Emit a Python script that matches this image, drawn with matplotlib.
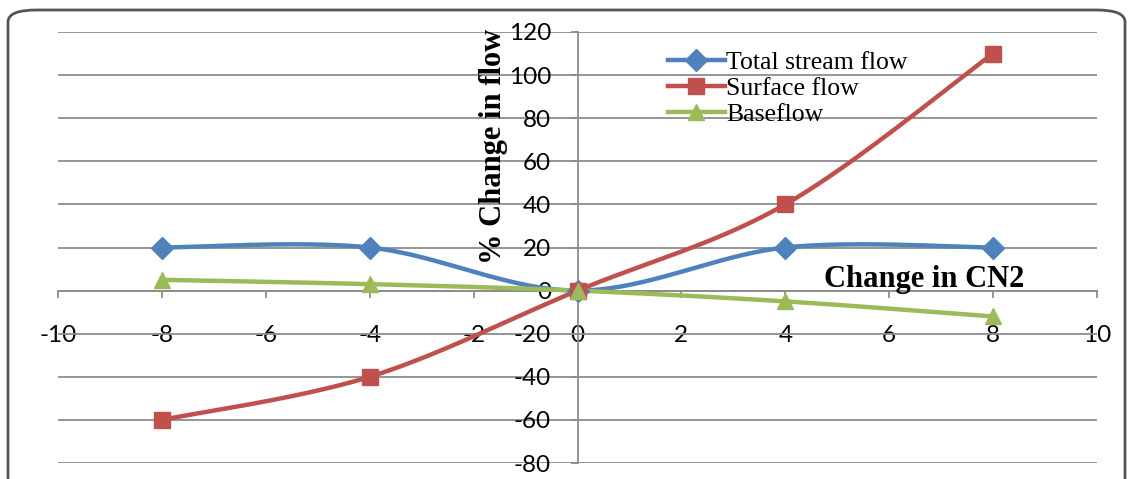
import numpy as np
import matplotlib
matplotlib.use("Agg")
import matplotlib.pyplot as plt
from matplotlib.lines import Line2D
from matplotlib.patches import FancyBboxPatch

plt.rcParams["axes.unicode_minus"] = False

cn2_change = [-8, -4, 0, 4, 8]
total_flow = [20, 20, 0, 20, 20]
surface_flow = [-60, -40, 0, 40, 110]
base_flow = [5, 3, 0, -5, -12]

series_names = ["Total stream flow", "Surface flow", "Baseflow"]
colors = ["#4F81BD", "#C0504D", "#9BBB59"]
markers = ["D", "s", "^"]
msizes = [11, 11, 12]

GRID = "#8c8c8c"


def smooth(xs, ys, n=40):
    # excel-like smoothed line: cubic bezier with catmull-rom control points
    p = np.column_stack([xs, ys]).astype(float)
    out = []
    for i in range(len(p) - 1):
        p0 = p[i - 1] if i > 0 else p[i]
        p3 = p[i + 2] if i + 2 < len(p) else p[i + 1]
        c1 = p[i] + (p[i + 1] - p0) / 6
        c2 = p[i + 1] - (p3 - p[i]) / 6
        t = np.linspace(0, 1, n)[:, None]
        seg = ((1 - t) ** 3 * p[i] + 3 * (1 - t) ** 2 * t * c1
               + 3 * (1 - t) * t ** 2 * c2 + t ** 3 * p[i + 1])
        out.append(seg if i == 0 else seg[1:])
    out = np.vstack(out)
    return out[:, 0], out[:, 1]


fig = plt.figure(figsize=(11.31, 4.79), dpi=100)
ax = fig.add_axes([58 / 1131, 1 - 463 / 479, (1097 - 58) / 1131, (463 - 32) / 479])

handles = []
for ys, c, m, ms, name in zip([total_flow, surface_flow, base_flow], colors, markers, msizes, series_names):
    sx, sy = smooth(cn2_change, ys)
    ax.plot(sx, sy, color=c, lw=3.2, solid_capstyle="round", zorder=3)
    ax.plot(cn2_change, ys, ls="none", marker=m, ms=ms, color=c, mec=c, zorder=4)
    handles.append(Line2D([], [], color=c, lw=3.2, marker=m, ms=ms, mec=c))

ax.set_xlim(-10, 10)
ax.set_ylim(-80, 120)
ax.set_xticks(np.arange(-10, 11, 2))
ax.set_yticks(np.arange(-80, 121, 20))
ax.yaxis.grid(True, color=GRID, lw=1.3)
ax.set_axisbelow(True)

for s in ["top", "right"]:
    ax.spines[s].set_visible(False)
ax.spines["left"].set_position(("data", 0))
ax.spines["bottom"].set_position(("data", 0))
for s in ["left", "bottom"]:
    ax.spines[s].set_color(GRID)
    ax.spines[s].set_linewidth(1.3)

ax.tick_params(axis="x", direction="out", length=5, width=1.3, color=GRID, pad=20,
               labelsize=17.5, labelfontfamily="Lato")
ax.tick_params(axis="y", direction="out", length=5, width=1.3, color=GRID, pad=14,
               labelsize=17.5, labelfontfamily="Lato")

fig.text(493 / 1131, 1 - 146 / 479, "% Change in flow", rotation=90, ha="center", va="center",
         fontsize=22, fontweight="bold", family="Liberation Serif")
fig.text(924 / 1131, 1 - 279 / 479, "Change in CN2", ha="center", va="center",
         fontsize=22, fontweight="bold", family="Liberation Serif")

leg = fig.legend(handles, series_names, loc="upper left", bbox_to_anchor=(668 / 1131, 1 - 51 / 479),
                 frameon=False, prop={"family": "Liberation Serif", "size": 18.5},
                 handlelength=2.2, handletextpad=0.05, labelspacing=0.12, borderpad=0, borderaxespad=0)

border = FancyBboxPatch((8 / 1131, -0.05), (1125 - 8) / 1131, 1 - 10 / 479 + 0.05,
                        boxstyle="round,pad=0,rounding_size=0.025", transform=fig.transFigure,
                        fill=False, ec="#555555", lw=2, zorder=0)
fig.patches.append(border)

fig.savefig("out.png", dpi=100)
